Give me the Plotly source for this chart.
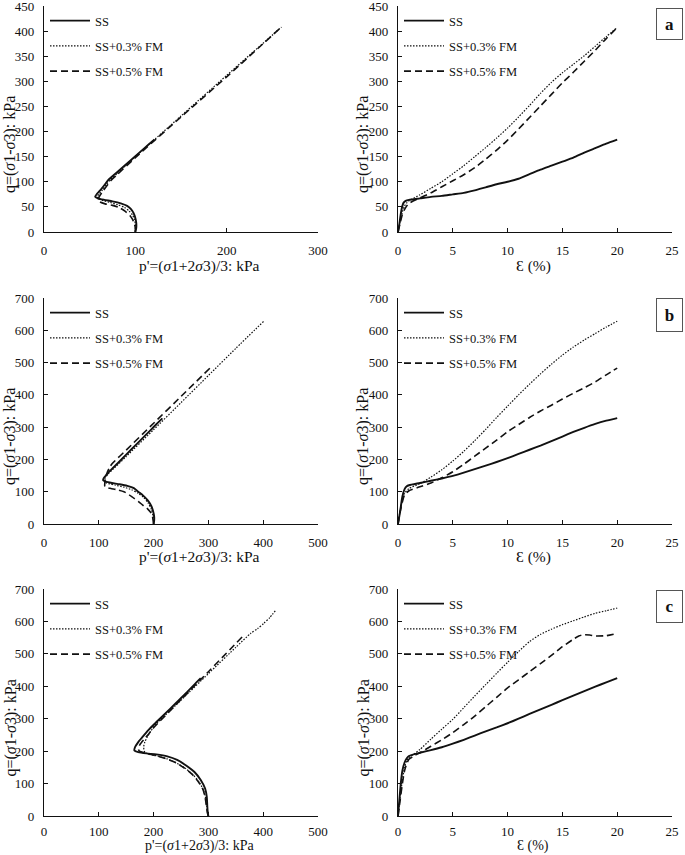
import plotly.graph_objects as go

# ---------------- data ----------------
names = ["SS", "SS+0.3% FM", "SS+0.5% FM"]

# Panel a: stress path (p', q)
a_path_ss_p = [100,101,101,100,98,95,91,84,75,66,59,56,58,62,66,70,80,90,100,110,121]
a_path_ss_q = [0,8,18,28,38,46,52,57,61,64,67,70,76,84,93,103,119,135,151,167,184]
a_path_03_p = [100,100,100,99,97,93,88,81,72,64,59,58,60,64,68,72,80,100,150,200,260]
a_path_03_q = [0,8,16,25,34,42,49,54,59,63,67,70,75,84,94,103,116,150,231,312,408]
a_path_05_p = [100,100,99,97,94,89,82,75,67,61,59,61,64,68,73,80,100,150,200,258]
a_path_05_q = [0,8,16,25,33,41,49,53,56,60,64,72,80,90,102,114,148,229,309,405]

# Panel a: stress-strain (strain %, q)
a_ss_e = [0,0.1,0.2,0.3,0.4,0.5,0.7,1,2,3,4,5,6,7,8,9,10,11,12,13,14,15,16,17,18,19,20]
a_ss_q = [0,12,28,42,52,58,62,64,67,70,72,75,78,83,89,95,100,106,115,124,132,140,148,158,167,176,184]
a_03_e = [0,0.2,0.4,0.6,0.8,1,2,3,4,5,6,7,8,9,10,11,12,13,14,15,16,17,18,19,20]
a_03_q = [0,22,40,52,58,62,74,87,100,116,132,150,168,187,207,229,252,276,298,317,334,351,370,389,407]
a_05_e = [0,0.2,0.4,0.6,0.8,1,2,3,4,5,6,7,8,9,10,11,12,13,14,15,16,17,18,19,20]
a_05_q = [0,18,35,45,52,57,68,78,90,102,114,128,145,163,183,205,228,251,274,297,318,340,362,385,407]

# Panel b: stress path
b_path_ss_p = [200,201,201,199,196,189,181,172,164,152,138,124,113,108,109,114,119,135,150,170,190,205,216]
b_path_ss_q = [0,10,23,40,55,74,88,100,111,118,123,127,131,135,142,152,162,189,215,249,283,309,327]
b_path_03_p = [200,200,199,196,190,182,172,160,146,131,118,111,110,112,117,125,150,200,250,300,350,401]
b_path_03_q = [0,12,25,45,65,82,95,106,114,120,125,130,136,144,155,168,209,292,376,460,544,628]
b_path_05_p = [200,199,198,195,189,182,172,160,146,134,122,114,111,111,112,115,120,125,150,200,250,303]
b_path_05_q = [0,12,23,35,47,56,70,85,100,106,110,113,116,128,142,158,176,188,229,312,395,483]

# Panel b: stress-strain
b_ss_e = [0,0.2,0.4,0.6,0.8,1,2,3,4,5,6,7,8,9,10,11,12,13,14,15,16,17,18,19,20]
b_ss_q = [0,40,85,108,117,120,127,134,141,149,159,170,181,192,204,217,230,243,257,271,285,298,310,320,328]
b_03_e = [0,0.3,0.6,1,2,3,4,5,6,7,8,9,10,11,12,13,14,15,16,17,18,19,20]
b_03_q = [0,60,95,110,125,145,168,195,225,258,293,330,365,400,433,465,495,523,548,570,590,610,628]
b_05_e = [0,0.3,0.6,1,2,3,4,5,6,7,8,9,10,11,12,13,14,15,16,17,18,19,20]
b_05_q = [0,55,90,103,115,127,143,162,185,210,235,260,286,308,330,350,368,387,405,422,440,462,483]

# Panel c: stress path
c_path_ss_p = [300,299,298,297,294,286,275,260,243,225,205,187,172,165,166,172,181,190,201,220,240,260,280,286]
c_path_ss_q = [0,8,30,60,85,111,135,155,173,184,190,193,197,202,212,228,246,264,283,314,347,380,415,425]
c_path_03_p = [300,299,297,295,291,283,272,258,242,225,205,190,183,182,184,189,195,201,250,300,350,377,390,401,412,423]
c_path_03_q = [0,10,30,55,80,105,127,147,163,176,186,191,200,214,228,245,262,277,357,439,520,563,578,594,612,635]
c_path_05_p = [300,298,296,294,290,281,270,256,240,222,202,185,174,172,175,182,191,200,250,300,365]
c_path_05_q = [0,12,35,58,82,107,129,148,165,177,187,194,200,208,220,235,253,272,359,445,558]

# Panel c: stress-strain
c_ss_e = [0,0.1,0.2,0.3,0.4,0.6,0.8,1,1.5,2,3,4,5,6,7,8,9,10,11,12,13,14,15,16,17,18,19,20]
c_ss_q = [0,40,80,115,140,165,178,185,191,195,203,212,223,235,248,261,273,286,300,315,329,343,357,371,385,399,412,425]
c_03_e = [0,0.2,0.4,0.6,0.8,1,1.5,2,3,4,5,6,7,8,9,10,11,12,13,14,15,16,17,18,19,20]
c_03_q = [0,60,110,150,170,180,192,205,237,268,298,334,370,405,440,474,507,538,560,576,590,602,614,625,633,641]
c_05_e = [0,0.2,0.4,0.6,0.8,1,1.5,2,3,4,5,6,7,8,9,10,11,12,13,14,15,16,16.5,17,17.5,18,19,20]
c_05_q = [0,50,100,140,162,175,186,195,215,235,257,282,308,337,366,395,420,445,470,495,522,545,555,559,558,555,556,563]

x_ticks_path_a = [0, 100, 200, 300]
x_ticks_path_bc = [0, 100, 200, 300, 400, 500]
x_ticks_strain = [0, 5, 10, 15, 20, 25]
y_ticks_a = [0, 50, 100, 150, 200, 250, 300, 350, 400, 450]
y_ticks_bc = [0, 100, 200, 300, 400, 500, 600, 700]
panel_labels = ["a", "b", "c"]
x_title_path = "p'=(<i>σ</i>1+2<i>σ</i>3)/3: kPa"
x_title_strain = "Ɛ (%)"
y_title = "q=(<i>σ</i>1-<i>σ</i>3): kPa"

# ---------------- layout geometry ----------------
W, H = 685, 855
def px_x(v):
    return v / W
def px_y(v):
    return 1 - v / H

col_px = [(44, 318), (398, 672)]
row_px = [(6, 232), (298, 524), (589, 816)]
xtitle_y = [266, 557, None]
xtick_standoff = [6, 6, 3]

FONT = "Liberation Serif, Times New Roman, serif"
styles = [dict(color="#111", width=1.9, dash="solid"),
          dict(color="#111", width=1.2, dash="1.5px,1.5px"),
          dict(color="#111", width=1.6, dash="7px,4px")]

panels = [
    (0, 0, [(a_path_ss_p, a_path_ss_q), (a_path_03_p, a_path_03_q), (a_path_05_p, a_path_05_q)],
     [0, 300], x_ticks_path_a, [0, 450], y_ticks_a, x_title_path),
    (0, 1, [(a_ss_e, a_ss_q), (a_03_e, a_03_q), (a_05_e, a_05_q)],
     [0, 25], x_ticks_strain, [0, 450], y_ticks_a, x_title_strain),
    (1, 0, [(b_path_ss_p, b_path_ss_q), (b_path_03_p, b_path_03_q), (b_path_05_p, b_path_05_q)],
     [0, 500], x_ticks_path_bc, [0, 700], y_ticks_bc, x_title_path),
    (1, 1, [(b_ss_e, b_ss_q), (b_03_e, b_03_q), (b_05_e, b_05_q)],
     [0, 25], x_ticks_strain, [0, 700], y_ticks_bc, x_title_strain),
    (2, 0, [(c_path_ss_p, c_path_ss_q), (c_path_03_p, c_path_03_q), (c_path_05_p, c_path_05_q)],
     [0, 500], x_ticks_path_bc, [0, 700], y_ticks_bc, x_title_path),
    (2, 1, [(c_ss_e, c_ss_q), (c_03_e, c_03_q), (c_05_e, c_05_q)],
     [0, 25], x_ticks_strain, [0, 700], y_ticks_bc, x_title_strain),
]

fig = go.Figure()
layout = dict(width=W, height=H, margin=dict(l=0, r=0, t=0, b=0, autoexpand=False),
              template="none",
              paper_bgcolor="white", plot_bgcolor="white",
              font=dict(family=FONT, size=13, color="#111"),
              annotations=[])

for i, (r, c, series, xr, xt, yr, yt, xtitle) in enumerate(panels):
    k = i + 1
    xa = "x" if k == 1 else f"x{k}"
    ya = "y" if k == 1 else f"y{k}"
    lg = "legend" if k == 1 else f"legend{k}"
    for j, (xs, ys) in enumerate(series):
        fig.add_trace(go.Scatter(x=xs, y=ys, mode="lines", name=names[j],
                                 line=dict(shape="spline", smoothing=0.6, **styles[j]),
                                 xaxis=xa, yaxis=ya, legend=lg,
                                 legendgroup=f"g{k}_{j}", showlegend=True))
    x0, x1 = col_px[c]
    y0, y1 = row_px[r]
    axis_common = dict(showgrid=False, zeroline=False, showline=True, linecolor="#111",
                       linewidth=1.2, ticks="inside", ticklen=4, tickcolor="#111",
                       tickwidth=1.2, tickfont=dict(family=FONT, size=13, color="#111"),
                       fixedrange=True, automargin=False, ticklabeloverflow="allow")
    layout["xaxis" if k == 1 else f"xaxis{k}"] = dict(
        domain=[px_x(x0), px_x(x1)], range=xr, tickvals=xt, anchor=ya,
        ticklabelstandoff=xtick_standoff[r], **axis_common)
    layout["yaxis" if k == 1 else f"yaxis{k}"] = dict(
        domain=[px_y(y1), px_y(y0)], range=yr, tickvals=yt, anchor=xa,
        ticklabelstandoff=6, **axis_common)
    layout[lg] = dict(x=px_x(x0 + 1), y=px_y(y0), xanchor="left", yanchor="top",
                      bgcolor="rgba(0,0,0,0)", borderwidth=0,
                      font=dict(family=FONT, size=12.5, color="#111"),
                      tracegroupgap=6, itemwidth=40)
    xc = 200 if c == 0 else 533
    if xtitle_y[r] is not None:
        layout["annotations"].append(dict(text=xtitle, xref="paper", yref="paper",
                                          x=px_x(xc), y=px_y(xtitle_y[r]), showarrow=False,
                                          xanchor="center", yanchor="middle",
                                          font=dict(family=FONT, size=15.5, color="#111")))
    else:
        layout["annotations"].append(dict(text=xtitle, xref="paper", yref="paper",
                                          x=px_x(xc), y=0, showarrow=False,
                                          xanchor="center", yanchor="bottom", borderpad=0,
                                          font=dict(family=FONT, size=14, color="#111")))
    ytx = 10 if c == 0 else 363
    layout["annotations"].append(dict(text=y_title, xref="paper", yref="paper",
                                      x=px_x(ytx), y=px_y((y0 + y1) / 2 + 26), textangle=-90,
                                      showarrow=False, xanchor="center", yanchor="middle",
                                      font=dict(family=FONT, size=16, color="#111")))

box_y = [(8, 40), (298, 332), (590, 623)]
for lab, (by0, by1) in zip(panel_labels, box_y):
    layout["annotations"].append(dict(text=f"<b>{lab}</b>", xref="paper", yref="paper",
                                      x=px_x(669.5), y=px_y((by0 + by1) / 2), showarrow=False,
                                      xanchor="center", yanchor="middle",
                                      width=25, height=(by1 - by0 - 2), bordercolor="#555",
                                      borderwidth=1, borderpad=0, bgcolor="white",
                                      font=dict(family=FONT, size=17, color="#111")))

fig.update_layout(**layout)
fig.write_html("out.html", config={"displayModeBar": False},
               post_script="document.body.style.margin='0';document.body.style.overflow='hidden';")
